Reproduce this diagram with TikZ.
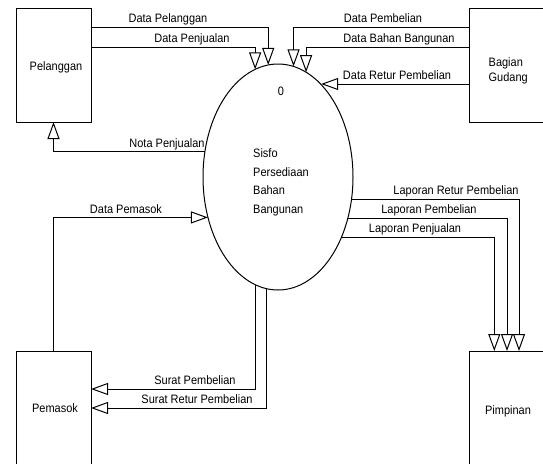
\documentclass[tikz,border=0pt]{standalone}
\usepackage{fontspec}
\setmainfont{Liberation Sans}[FakeStretch=0.9]
\usetikzlibrary{arrows.meta,shapes.geometric}
\begin{document}
\begin{tikzpicture}[x=1pt,y=-1pt,
  every node/.style={font=\fontsize{12.2}{14}\selectfont},
  entity/.style={draw, line width=1pt, minimum height=114pt, inner sep=0pt, outer sep=0pt, anchor=north west},
  process/.style={draw, ellipse, line width=1pt, minimum width=150pt, minimum height=226pt, inner sep=0pt, outer sep=0pt},
  flow/.style={draw, line width=1pt, -{Triangle[open, length=17pt, width=12pt]}},
  lbl/.style={anchor=base, inner sep=0pt},
  boxtext/.style={anchor=base, inner sep=0pt},
  proctext/.style={anchor=base west, inner sep=0pt}]
\useasboundingbox (0,0) rectangle (543,463);
\clip (0,0) rectangle (543,463);

% external entities
\node[entity, minimum width=75pt] (pel) at (16,8) {};
\node[entity, minimum width=76pt] (gud) at (469,8) {};
\node[entity, minimum width=75pt] (pem) at (16,351) {};
\node[entity, minimum width=76pt] (pim) at (469,351) {};

\node[boxtext] (pelT) at (56,70.5) {Pelanggan};
\node[proctext] (gudT1) at (488.5,66) {Bagian};
\node[proctext] (gudT2) at (488.5,81) {Gudang};
\node[boxtext] (pemT) at (55,412.7) {Pemasok};
\node[boxtext] (pimT) at (508,414) {Pimpinan};

% process
\node[process] (proc) at (278,177) {};
\node[boxtext] (procNo) at (281,95.5) {0};
\node[proctext] (procT1) at (253,157.3) {Sisfo};
\node[proctext] (procT2) at (253,176) {Persediaan};
\node[proctext] (procT3) at (253,194.7) {Bahan};
\node[proctext] (procT4) at (253,213.4) {Bangunan};

% data flows
\draw[flow] ([yshift=-19pt]pel.north east) -| (proc.95.6);
\draw[flow] ([yshift=-39pt]pel.north east) -| (proc.102.1);
\draw[flow] (proc.161.1) -| (pel.south);

\draw[flow] ([yshift=-19pt]gud.north west) -| (proc.82.3);
\draw[flow] ([yshift=-39pt]gud.north west) -| (proc.75.1);
\coordinate (gr) at ([yshift=-76pt]gud.north west);
\draw[flow] (gr) -- (gr -| proc.65.4);

\draw[flow] (pem.north) |- (proc.210.4);
\draw[flow] (proc.258.5) |- ([yshift=19pt]pem.east);
\draw[flow] (proc.264.9) |- (pem.east);

\draw[flow] (proc.343.4) -| ([xshift=12pt]pim.north);
\draw[flow] (proc.329.6) -| (pim.north);
\draw[flow] (proc.316.7) -| ([xshift=-12.7pt]pim.north);

% flow labels
\node[lbl] (l1) at (168,22.5) {Data Pelanggan};
\node[lbl] (l2) at (192,42.5) {Data Penjualan};
\node[lbl] (l3) at (167,147.5) {Nota Penjualan};
\node[lbl] (l4) at (383,22.5) {Data Pembelian};
\node[lbl] (l5) at (399,42.5) {Data Bahan Bangunan};
\node[lbl] (l6) at (397,79.5) {Data Retur Pembelian};
\node[lbl] (l7) at (126,213.5) {Data Pemasok};
\node[lbl] (l8) at (195,384.5) {Surat Pembelian};
\node[lbl] (l9) at (197,403.5) {Surat Retur Pembelian};
\node[lbl] (l10) at (456,194.5) {Laporan Retur Pembelian};
\node[lbl] (l11) at (429,213.5) {Laporan Pembelian};
\node[lbl] (l12) at (415,232.5) {Laporan Penjualan};
\end{tikzpicture}
\end{document}
